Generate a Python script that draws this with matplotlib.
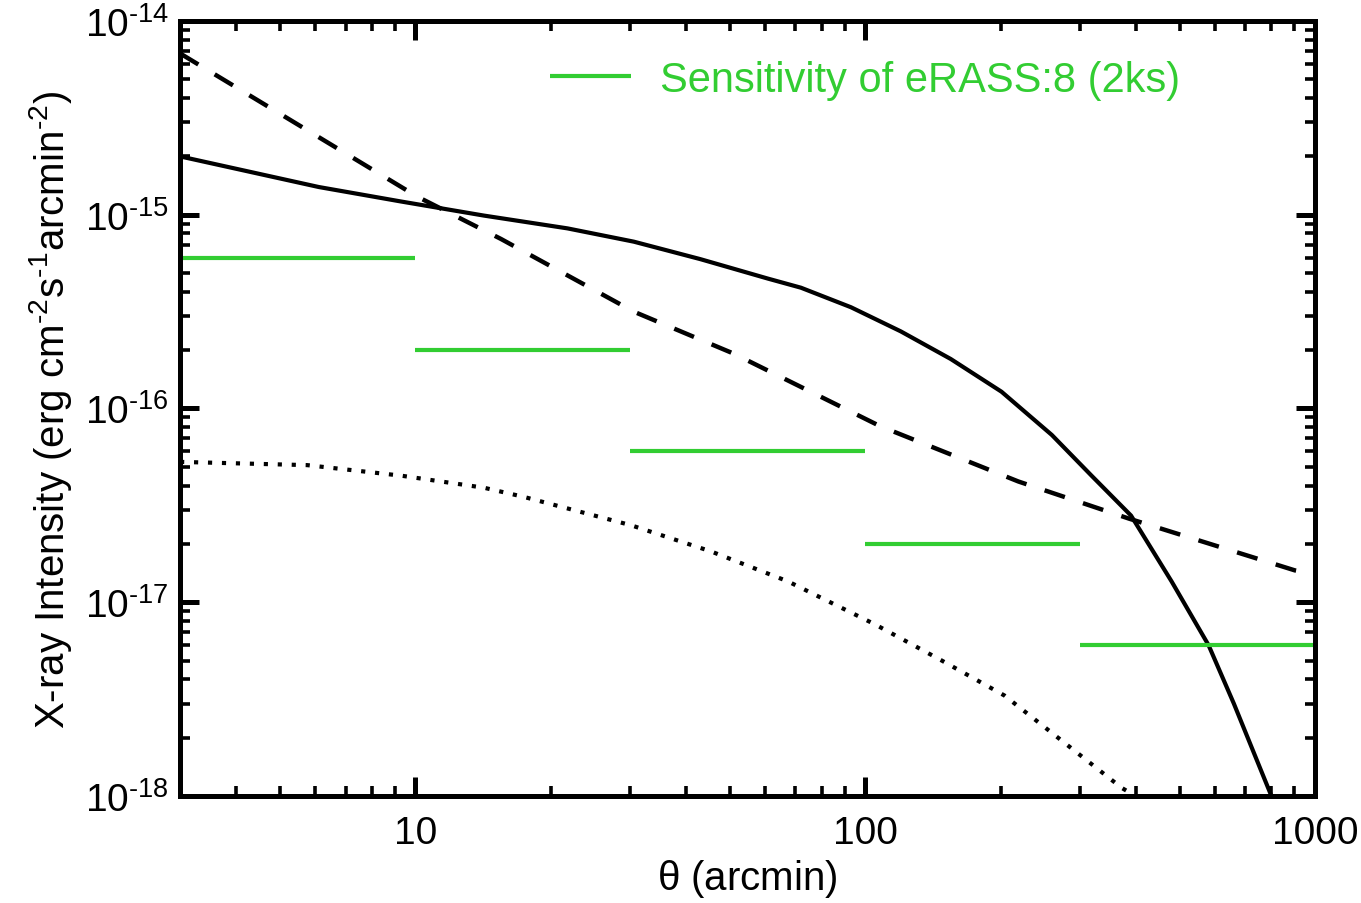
import numpy as np
import matplotlib
matplotlib.use("Agg")
import matplotlib.pyplot as plt
from matplotlib.ticker import LogLocator, FixedLocator, FuncFormatter, NullFormatter

plt.rcParams['font.family'] = ['Liberation Sans', 'DejaVu Sans']
plt.rcParams['mathtext.fontset'] = 'custom'
plt.rcParams['mathtext.rm'] = 'Liberation Sans'
plt.rcParams['mathtext.it'] = 'Liberation Sans:italic'
plt.rcParams['mathtext.default'] = 'regular'

# total emission (solid)
theta_solid = [3, 6.1, 9.3, 14.2, 21.8, 30.6, 43, 60.8, 72, 93, 120, 155, 201, 260,
               318, 390, 480, 580, 660, 800]
I_solid = [2.0e-15, 1.39e-15, 1.17e-15, 9.9e-16, 8.5e-16, 7.26e-16, 5.9e-16, 4.68e-16,
           4.2e-16, 3.33e-16, 2.5e-16, 1.8e-16, 1.22e-16, 7.3e-17,
           4.52e-17, 2.8e-17, 1.28e-17, 6.0e-18, 3.0e-18, 1.0e-18]

# dashed component
theta_dash = [3, 10.1, 15.5, 30.6, 51, 108, 219, 386, 902, 1000]
I_dash = [6.8e-15, 1.24e-15, 7.5e-16, 3.16e-16, 1.92e-16, 8.1e-17, 4.2e-17, 2.7e-17, 1.46e-17, 1.4e-17]

# dotted component
theta_dot = [3, 5.75, 9.3, 14.2, 17.4, 30.1, 45.4, 67.4, 105, 148, 204, 372, 450]
I_dot = [5.3e-17, 5.1e-17, 4.5e-17, 3.9e-17, 3.5e-17, 2.5e-17, 1.83e-17, 1.28e-17,
         7.7e-18, 5.0e-18, 3.3e-18, 1.1e-18, 0.85e-18]

# eRASS:8 sensitivity per bin
bin_edges = [3, 10, 30, 100, 300, 1000]
sens = [6e-16, 2e-16, 6e-17, 2e-17, 6e-18]

y_major = [1e-18, 1e-17, 1e-16, 1e-15, 1e-14]

green = "#32CD32"

fig = plt.figure(figsize=(13.61, 9.04), dpi=100)
ax = fig.add_axes([0.1323, 0.1184, 0.8339, 0.8573])

ax.plot(theta_solid, I_solid, color="black", lw=3)
ax.plot(theta_dash, I_dash, color="black", lw=3.2, dashes=(4.8, 4.3))
ax.plot(theta_dot, I_dot, color="black", lw=3, dashes=(1, 2.35))

for i in range(len(sens)):
    ax.plot([bin_edges[i], bin_edges[i + 1]], [sens[i], sens[i]], color=green, lw=3,
            label="Sensitivity of eRASS:8 (2ks)" if i == 0 else None, solid_capstyle="butt")

ax.set_xscale("log")
ax.set_yscale("log")
ax.set_xlim(3, 1000)
ax.set_ylim(1e-18, 1e-14)

ax.xaxis.set_major_locator(FixedLocator([10, 100, 1000]))
ax.xaxis.set_minor_locator(LogLocator(base=10, subs=np.arange(2, 10), numticks=20))
ax.xaxis.set_major_formatter(FuncFormatter(lambda v, p: "%d" % v))
ax.xaxis.set_minor_formatter(NullFormatter())
ax.yaxis.set_major_locator(FixedLocator(y_major))
ax.yaxis.set_minor_locator(LogLocator(base=10, subs=np.arange(2, 10), numticks=20))
ax.yaxis.set_major_formatter(FuncFormatter(lambda v, p: r"$10^{\text{-}%d}$" % abs(round(np.log10(v)))))
ax.yaxis.set_minor_formatter(NullFormatter())

ax.tick_params(which="both", direction="in", top=True, right=True, labelsize=28, colors="black")
ax.tick_params(which="major", length=14, width=3.6)
ax.tick_params(which="minor", length=7, width=2.6)
ax.tick_params(axis="x", which="major", pad=14)
ax.tick_params(axis="y", which="major", pad=8)
for s in ax.spines.values():
    s.set_linewidth(3.6)

ax.set_xlabel(r"$\theta$ (arcmin)", fontsize=29, labelpad=4)
ax.set_ylabel(r"X-ray Intensity (erg cm$^{\text{-}2}$s$^{\text{-}1}$arcmin$^{\text{-}2}$)", fontsize=29, labelpad=8)

leg = ax.legend(loc="center left", bbox_to_anchor=(0.326, 0.924), frameon=False, fontsize=30,
                handlelength=1.95, handletextpad=0.7, borderpad=0, borderaxespad=0)
for t in leg.get_texts():
    t.set_color(green)

fig.savefig("out.png", dpi=100)
